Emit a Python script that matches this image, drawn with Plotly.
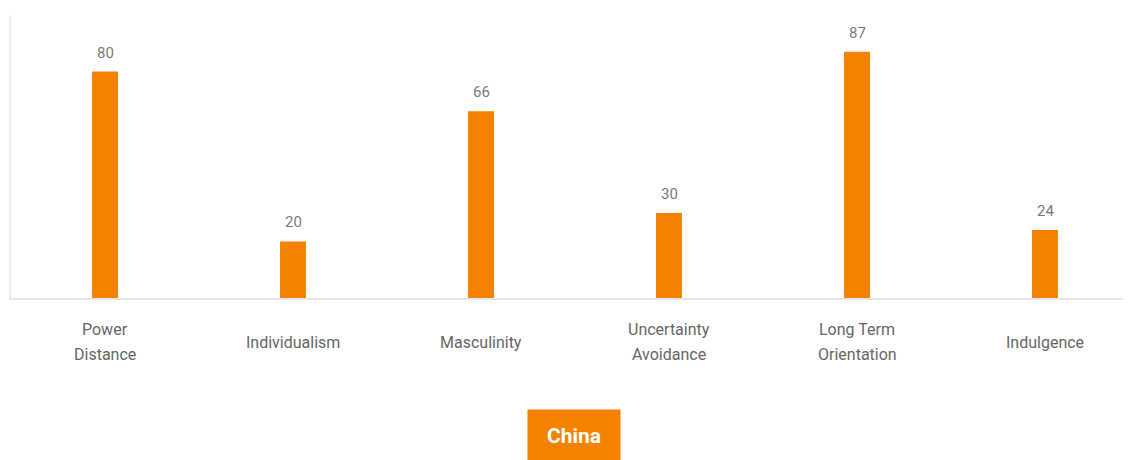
import plotly.graph_objects as go

categories = [["Power", "Distance"], ["Individualism"], ["Masculinity"], ["Uncertainty", "Avoidance"],
              ["Long Term", "Orientation"], ["Indulgence"]]
values = [80, 20, 66, 30, 87, 24]
country = "China"

ORANGE = "#F38200"
FONT = "Roboto"

fig = go.Figure()
fig.add_trace(go.Bar(x=list(range(len(categories))), y=values, marker=dict(color=ORANGE, line=dict(width=0)),
                     hoverinfo="skip"))

for i, v in enumerate(values):
    fig.add_annotation(x=i, y=v, text=str(v), showarrow=False, yanchor="bottom", yshift=8,
                       font=dict(size=15, color="#7a7a7a", family=FONT))

for i, lines in enumerate(categories):
    if len(lines) == 1:
        offsets = [-44]
    else:
        offsets = [-31, -56]
    for line, off in zip(lines, offsets):
        fig.add_annotation(x=i, xref="x", yref="paper", y=0, yshift=off, text=line, showarrow=False,
                           yanchor="middle", font=dict(size=16, color="#666", family=FONT))

fig.add_annotation(xref="paper", yref="paper", x=(574 - 11) / 1128, y=-(436 - 298) / 283,
                   text="<b>" + country + "</b>", showarrow=False, bgcolor=ORANGE,
                   font=dict(size=21, color="white", family=FONT),
                   width=90, height=50, xanchor="center", yanchor="middle")

fig.update_layout(
    width=1131, height=460,
    margin=dict(l=3, r=0, t=7, b=170),
    paper_bgcolor="white", plot_bgcolor="white",
    bargap=0.862, showlegend=False,
    font=dict(family=FONT, color="#666"),
)
fig.update_xaxes(range=[-0.5, 5.5], showticklabels=False, showgrid=False, showline=True,
                 linecolor="#e6e6e6", linewidth=1.5, zeroline=False)
fig.update_yaxes(range=[0, 100], showgrid=False, showline=True, linecolor="#eeeeee", linewidth=1.5,
                 showticklabels=False, zeroline=False)

fig.write_html("out.html")
